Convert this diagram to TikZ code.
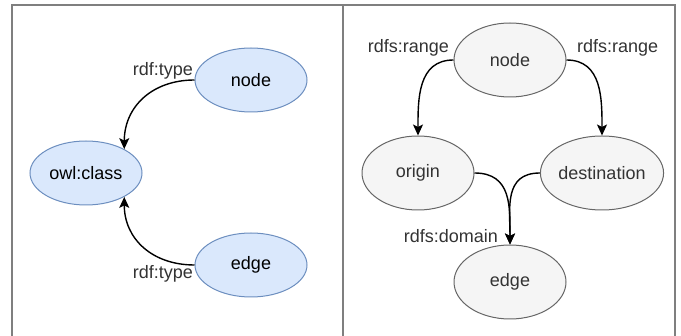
\documentclass[tikz,border=0pt]{standalone}
\usepackage{fontspec}
\setmainfont{Liberation Sans}
\usetikzlibrary{arrows.meta,shapes.geometric}

\definecolor{blueFill}{HTML}{DAE8FC}
\definecolor{blueLine}{HTML}{6C8EBF}
\definecolor{grayFill}{HTML}{F5F5F5}
\definecolor{grayLine}{HTML}{666666}
\definecolor{textDark}{HTML}{333333}
\definecolor{frameGray}{HTML}{7F7F7F}

\newcommand{\lblfont}{\fontsize{18}{20}\selectfont}

\begin{document}
\begin{tikzpicture}[x=1pt,y=1pt,
  bluenode/.style={ellipse, draw=blueLine, fill=blueFill, line width=1pt,
    minimum width=112pt, minimum height=64pt, inner sep=0pt,
    font=\lblfont, text=black},
  graynode/.style={ellipse, draw=grayLine, fill=grayFill, line width=1pt,
    minimum width=112pt, minimum height=74pt, inner sep=0pt,
    font=\lblfont, text=textDark},
  link/.style={line width=1.4pt, draw=black,
    -{Stealth[length=11pt,width=10pt,inset=2.5pt]}},
  lbl/.style={inner sep=0pt, font=\lblfont, text=textDark},
  frame/.style={draw=frameGray, line width=1.5pt}
]
\useasboundingbox (0,0) rectangle (681,-336);

% outer frame and the divider between the two panels
\begin{scope}
  \clip (0,0) rectangle (681,-336);
  \draw[frame] (12,-5) rectangle (675,-350);
  \draw[frame] (343,-5) -- (343,-350);
\end{scope}

% ---- left panel: class membership ----
\node[bluenode] (cls)   at (86,-173)  {owl:class};
\node[bluenode] (tnode) at (251,-80)  {node};
\node[bluenode] (tedge) at (251,-265) {edge};

\draw[link] (tnode.west) to[out=180, in=90, looseness=1.1] (cls.32);
\draw[link] (tedge.west) to[out=180, in=-90, looseness=1.1] (cls.-32);

\node[lbl, anchor=east] (typeA) at (193,-71)  {rdf:type};
\node[lbl, anchor=east] (typeB) at (193,-274) {rdf:type};

% ---- right panel: ranges and domain ----
\node[graynode] (rnode) at (510,-60)  {node};
\node[graynode] (orig)  at (418,-173) {origin};
\node[graynode] (dest)  at (602,-173) {destination};
\node[graynode] (redge) at (510,-282) {edge};

\draw[link] (rnode.west) to[out=180, in=90, looseness=1.1] (orig.north);
\draw[link] (rnode.east) to[out=0,   in=90, looseness=1.1] (dest.north);
\draw[link] (orig.east)  to[out=0,   in=90, looseness=1.2] (redge.north);
\draw[link] (dest.west)  to[out=180, in=90, looseness=1.2] (redge.north);

\node[lbl, anchor=east] (rangeL) at (449,-48)  {rdfs:range};
\node[lbl, anchor=west] (rangeR) at (577,-48)  {rdfs:range};
\node[lbl, anchor=east] (domain) at (498,-236) {rdfs:domain};
\end{tikzpicture}
\end{document}
